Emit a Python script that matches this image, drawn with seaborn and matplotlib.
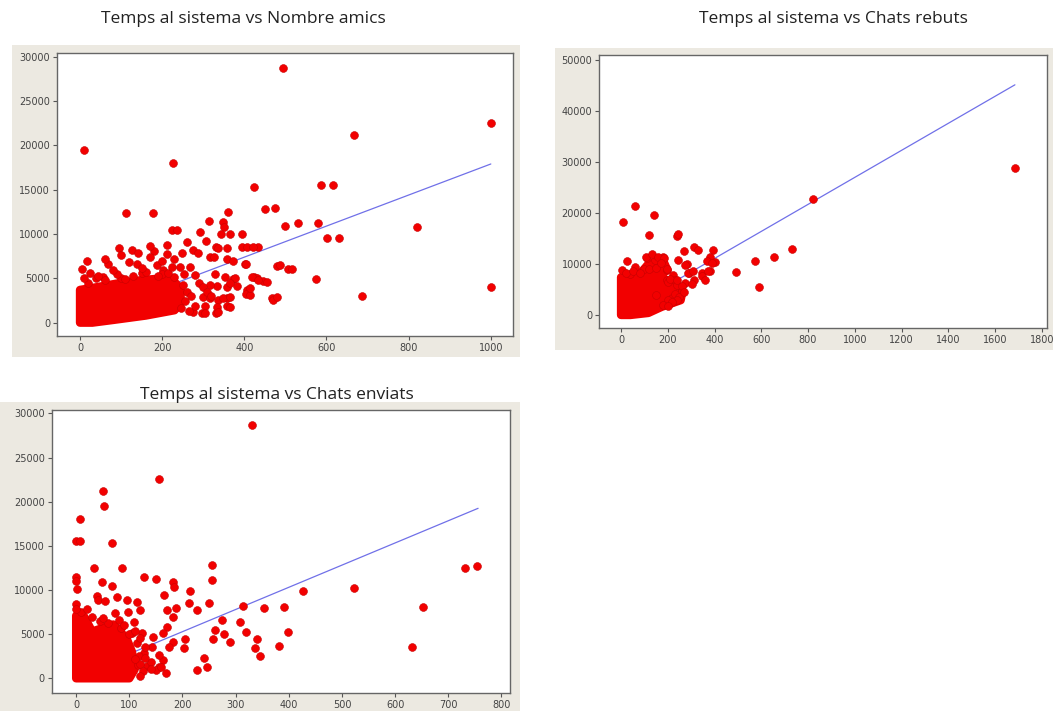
import matplotlib
matplotlib.use("Agg")
import matplotlib.pyplot as plt
import seaborn as sns
import pandas as pd
from matplotlib.patches import Rectangle

sns.set_style("white")
plt.rcParams['font.family'] = ['Open Sans', 'DejaVu Sans']

# ---------------- data ----------------
titles = ["Temps al sistema vs Nombre amics",
          "Temps al sistema vs Chats rebuts",
          "Temps al sistema vs Chats enviats"]

# Panel 1: Nombre amics
p1_x = [493, 1000, 667, 9, 227, 424, 586, 617, 111, 177, 450, 475, 360, 314, 499, 530, 580, 820,
        602, 631, 225, 235, 291, 348, 350, 343, 365, 395, 395, 406, 434, 331, 401, 479, 507, 575,
        424, 430, 446, 406, 403, 687, 1000, 467, 471, 357, 337, 331, 296,
        307, 260, 211, 96, 126, 179, 276, 337, 357, 422, 170, 211, 248, 288, 317, 357, 373, 16, 69,
        138, 187, 243, 268, 203, 252, 280, 24, 57, 329, 353, 373, 333, 357, 382, 418, 434, 414, 300,
        317, 349, 365, 304, 333, 357, 304, 276, 325, 404, 487, 517, 377, 317, 365, 455, 414, 480,
        337, 365, 250, 260, 255, 245, 270, 230, 150, 100, 40, 5, 200, 290, 280, 265, 300, 310, 320,
        20, 60, 90, 110, 130, 160, 190, 215, 225, 150, 120, 80, 45, 10, 170, 140, 200, 230, 100, 60]
p1_y = [28750, 22500, 21150, 19500, 18000, 15300, 15500, 15500, 12400, 12400, 12800, 12900, 12500,
        11500, 10900, 11200, 11200, 10800, 9500, 9500, 10500, 10500, 10200, 11300, 10800, 10000,
        10000, 10000, 8500, 8500, 8500, 8500, 6600, 6400, 6000, 4900, 5100, 5000, 4700, 3700, 3200,
        3000, 4000, 2750, 2550, 2800, 2550, 1050, 1050,
        9200, 9100, 8750, 8400, 8200, 8100, 8250, 8400, 8400, 8500, 7450, 7700, 7800, 7800, 7450,
        7150, 6900, 6950, 6600, 6600, 6500, 6250, 6250, 5950, 5500, 5400, 5550, 5200, 5450, 5200,
        4900, 4150, 4050, 4150, 5200, 4800, 3100, 2950, 2750, 2750, 2950, 1900, 1800, 1900, 1050,
        1250, 7450, 6600, 6500, 6100, 5000, 4250, 4450, 4600, 3900, 2900, 1150, 1800, 4200, 3500,
        2500, 1700, 3000, 5200, 5600, 5000, 5000, 6000, 5500, 4500, 1900, 1300, 4000, 3500, 3000,
        4500, 4800, 5500, 4900, 5300, 5700, 5300, 5600, 6300, 6200, 6800, 5900, 5300, 5000, 8600,
        7800, 7000, 7200, 7600, 7200]
p1_blob_x = [0, 0, 40, 100, 150, 200, 230, 245, 245, 230, 160, 80, 30]
p1_blob_y = [0, 3700, 4000, 4500, 4800, 5000, 4600, 3800, 2200, 1400, 800, 300, 0]
p1_fit_x = [0, 1000]
p1_fit_y = [390, 17890]

# Panel 2: Chats rebuts
p2_x = [1685, 820, 60, 140, 10, 120, 238, 245, 310, 330, 270, 393, 730, 653, 574, 379, 367, 403,
        243, 490, 589, 281, 289, 346, 381, 313, 27, 3, 181, 146, 110, 196, 196, 224, 231, 260, 106,
        134, 160, 185, 60, 195, 274, 285, 309, 345, 359, 374, 388, 203, 238, 274, 305, 262, 217,
        150, 200, 180, 100, 40, 230, 250,
        20, 50, 80, 120, 150, 170, 210, 240, 260, 270, 240, 220, 200]
p2_y = [28800, 22700, 21400, 19600, 18300, 15700, 15500, 15900, 13300, 12700, 12600, 12700, 12900,
        11400, 10600, 11400, 10500, 10300, 10800, 8400, 5400, 10000, 8200, 8200, 8700, 6900, 10500,
        8800, 11400, 10800, 11100, 8800, 6900, 7800, 6900, 4900, 11300, 11950, 11450, 11100, 9500,
        8950, 9800, 8300, 8700, 7650, 6900, 8700, 10250, 6500, 5900, 6200, 6100, 4800, 3300,
        4000, 3000, 2000, 9000, 8000, 4200, 3500,
        8300, 8600, 8200, 9000, 9200, 10200, 7000, 6800, 5600, 4500, 3000, 2500, 1800]
p2_blob_x = [0, 0, 74, 117, 181, 195, 174, 217, 238, 260, 255, 174, 117, 40]
p2_blob_y = [0, 7400, 7700, 10000, 10600, 9150, 7520, 5880, 4900, 4000, 2900, 1600, 400, 0]
p2_fit_x = [0, 1685]
p2_fit_y = [500, 45150]

# Panel 3: Chats enviats
p3_x = [331, 155, 50, 53, 8, 0, 7, 68, 34, 86, 0, 0, 2, 48, 68, 128, 150, 183, 184, 215, 256, 256,
        732, 754, 426, 523, 0, 39, 42, 55, 95, 114, 165, 212, 249, 313, 354, 390, 652, 228, 170,
        188, 274, 308, 319, 261, 399, 258, 278, 289, 340, 336, 345, 382, 632, 241, 246, 227, 169,
        205, 202, 183, 174, 164, 155, 142, 145, 127, 123, 108, 98, 76, 73, 80, 120, 183, 170, 164,
        105, 155, 133, 117, 10, 45, 60, 85, 100, 115, 118, 120, 125, 140, 150,
        0, 20, 30, 50, 90, 110, 120, 130, 110, 130, 140, 160, 120]
p3_y = [28700, 22600, 21200, 19500, 18000, 15500, 15500, 15300, 12500, 12500, 11500, 11000, 10100,
        10870, 10490, 11500, 11250, 10940, 10380, 9920, 12830, 11130, 12450, 12720, 9920, 10190,
        8420, 9320, 8870, 8750, 8870, 8600, 9430, 8570, 8490, 8230, 7960, 8040, 8110, 7740, 7740,
        7920, 6600, 6340, 5210, 5470, 5280, 4420, 5020, 4150, 4420, 3400, 2530, 3700, 3510, 2340,
        1320, 940, 640, 4420, 3400, 4150, 3580, 2080, 1320, 3580, 4720, 2830, 5090, 6420, 7550,
        9250, 7360, 6600, 7740, 6910, 5850, 5090, 5090, 2640, 1400, 1510, 7500, 6500, 6300, 5700,
        5000, 4000, 2500, 1600, 800, 1800, 900,
        7800, 7800, 7000, 6800, 6000, 5400, 4600, 3600, 2200, 2300, 1100, 1300, 300]
p3_blob_x = [0, 15, 30, 70, 95, 105, 110, 100, 0]
p3_blob_y = [7100, 7000, 5300, 6100, 4500, 3000, 1000, 0, 0]
p3_fit_x = [0, 756]
p3_fit_y = [260, 19250]

# ---------------- layout ----------------
W, H = 1055, 711
fig = plt.figure(figsize=(W / 100, H / 100), dpi=100)
fig.patch.set_facecolor("white")

BEIGE = "#ECE9E1"
panels = [(12, 45, 520, 357), (555, 48, 1053, 350), (0, 402, 520, 711)]
for (x0, y0, x1, y1) in panels:
    fig.patches.append(Rectangle((x0 / W, 1 - y1 / H), (x1 - x0) / W, (y1 - y0) / H,
                                 transform=fig.transFigure, facecolor=BEIGE,
                                 edgecolor="none", zorder=-10))

axes_px = [(57, 53, 513, 336), (599.3, 55, 1046.7, 328), (51.7, 410, 510, 693)]
limits = [((-56, 1054), (-1500, 30400)),
          ((-93, 1821), (-2550, 51000)),
          ((-46, 816), (-1660, 30380))]
xticks = [range(0, 1001, 200), range(0, 1801, 200), range(0, 801, 100)]
yticks = [range(0, 30001, 5000), range(0, 50001, 10000), range(0, 30001, 5000)]
title_pos = [(243, 19), (833, 19), (277, 395)]

datasets = [(p1_x, p1_y, p1_blob_x, p1_blob_y, p1_fit_x, p1_fit_y),
            (p2_x, p2_y, p2_blob_x, p2_blob_y, p2_fit_x, p2_fit_y),
            (p3_x, p3_y, p3_blob_x, p3_blob_y, p3_fit_x, p3_fit_y)]

RED = "#F20000"
for i, (x0, y0, x1, y1) in enumerate(axes_px):
    ax = fig.add_axes([x0 / W, 1 - y1 / H, (x1 - x0) / W, (y1 - y0) / H], zorder=1)
    ax.set_facecolor("white")
    px, py, bx, by, fx, fy = datasets[i]
    sns.lineplot(x=fx, y=fy, ax=ax, color="#7070E8", linewidth=0.9)
    for ln in ax.lines:
        ln.set_zorder(0.5)
    ax.fill(bx, by, facecolor=RED, edgecolor=RED, linewidth=6, joinstyle="round", zorder=1)
    sns.scatterplot(x=px, y=py, ax=ax, color=RED, edgecolor="#C80000", linewidth=0.4,
                    s=32, zorder=2)
    ax.set_xlim(*limits[i][0])
    ax.set_ylim(*limits[i][1])
    ax.set_xticks(list(xticks[i]))
    ax.set_yticks(list(yticks[i]))
    ax.tick_params(axis="both", which="both", direction="out", length=3, width=0.8,
                   labelsize=7, labelcolor="#444444", color="#555555", pad=2,
                   bottom=True, left=True)
    for lab in ax.get_xticklabels() + ax.get_yticklabels():
        lab.set_family("DejaVu Sans")
    for s in ax.spines.values():
        s.set_visible(True)
        s.set_color("#666666")
        s.set_linewidth(1.0)
    ax.set_xlabel("")
    ax.set_ylabel("")
    tx, ty = title_pos[i]
    fig.text(tx / W, 1 - ty / H, titles[i], ha="center", va="center",
             fontsize=12.5, color="#222222")

fig.savefig("out.png", dpi=100, facecolor="white")
